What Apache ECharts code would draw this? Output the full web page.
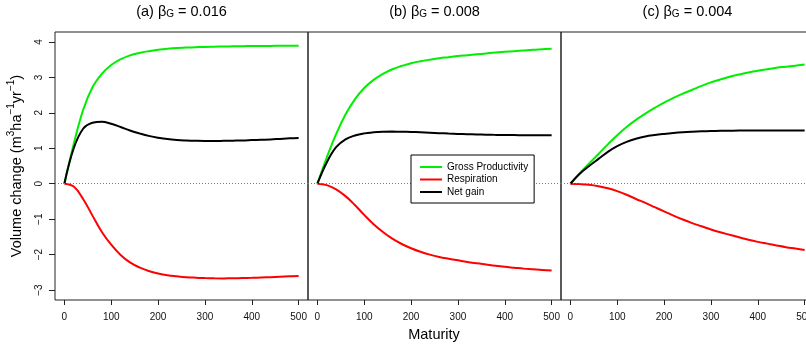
<!DOCTYPE html>
<html>
<head>
<meta charset="utf-8">
<script src="https://cdn.jsdelivr.net/npm/echarts@6/dist/echarts.min.js"></script>
<style>
html,body{margin:0;padding:0;background:#fff;}
#chart{width:806px;height:350px;}
</style>
</head>
<body>
<div id="chart"></div>
<script>
// ---- data (maturity every 20) ----
var maturity = [0,20,40,60,80,100,120,140,160,180,200,220,240,260,280,300,320,340,360,380,400,420,440,460,480,500];

var grossA = [0,1.12,2.08,2.72,3.1,3.35,3.51,3.62,3.69,3.74,3.78,3.81,3.83,3.84,3.85,3.86,3.865,3.87,3.875,3.88,3.883,3.886,3.888,3.89,3.89,3.89];
var respA  = [0,-0.08,-0.43,-0.9,-1.36,-1.72,-2.01,-2.22,-2.36,-2.46,-2.53,-2.58,-2.61,-2.635,-2.65,-2.66,-2.667,-2.67,-2.668,-2.662,-2.655,-2.645,-2.635,-2.622,-2.61,-2.6];
var netA   = [0,1.0,1.55,1.72,1.75,1.69,1.6,1.5,1.42,1.35,1.3,1.26,1.235,1.22,1.21,1.205,1.205,1.21,1.215,1.22,1.23,1.24,1.25,1.265,1.28,1.29];

var grossB = [0,0.74,1.4,1.95,2.38,2.7,2.93,3.1,3.23,3.32,3.4,3.455,3.5,3.54,3.57,3.6,3.625,3.65,3.675,3.7,3.72,3.74,3.76,3.78,3.795,3.81];
var respB  = [0,-0.04,-0.16,-0.35,-0.6,-0.88,-1.14,-1.36,-1.55,-1.7,-1.82,-1.92,-2.0,-2.065,-2.115,-2.16,-2.205,-2.245,-2.28,-2.315,-2.345,-2.37,-2.395,-2.415,-2.435,-2.45];
var netB   = [0,0.6,1.03,1.25,1.36,1.42,1.45,1.465,1.47,1.468,1.462,1.452,1.44,1.427,1.415,1.405,1.396,1.389,1.383,1.378,1.375,1.372,1.37,1.37,1.37,1.37];

var grossC = [0,0.3,0.57,0.84,1.11,1.37,1.6,1.8,1.98,2.14,2.29,2.42,2.54,2.65,2.76,2.86,2.94,3.02,3.08,3.14,3.19,3.23,3.27,3.3,3.33,3.36];
var respC  = [0,-0.01,-0.03,-0.07,-0.13,-0.21,-0.31,-0.43,-0.54,-0.66,-0.78,-0.9,-1.01,-1.11,-1.2,-1.29,-1.37,-1.44,-1.51,-1.58,-1.64,-1.69,-1.74,-1.79,-1.83,-1.87];
var netC   = [0,0.28,0.5,0.7,0.9,1.06,1.18,1.27,1.335,1.375,1.405,1.43,1.45,1.465,1.477,1.486,1.492,1.496,1.5,1.5,1.5,1.5,1.5,1.5,1.5,1.5];

var panelLetters = ['(a)', '(b)', '(c)'];
var panelBeta = ['0.016', '0.008', '0.004'];
var seriesNames = ['Gross Productivity', 'Respiration', 'Net gain'];
var xTicks = [0,100,200,300,400,500];
var yTicks = [-3,-2,-1,0,1,2,3,4];
var xLabel = 'Maturity';

// ---- chart ----
var FONT = '"Liberation Sans", Arial, Helvetica, sans-serif';
var colors = ['#00ee00', '#ff0000', '#000000'];
var panels = [[grossA, respA, netA], [grossB, respB, netB], [grossC, respC, netC]];
var lefts = [55, 308, 561];
var PW = 253, TOP = 32, PH = 268;
var lineCol = '#222';

function pairs(arr) { return maturity.map(function (t, i) { return [t, arr[i]]; }); }

var grids = [], xAxes = [], yAxes = [], series = [], graphics = [];
for (var p = 0; p < 3; p++) {
  grids.push({ left: lefts[p], top: TOP, width: PW, height: PH, show: true,
    borderColor: lineCol, borderWidth: 1, backgroundColor: 'transparent',
    containLabel: false, outerBoundsMode: 'none' });
  xAxes.push({ type: 'value', gridIndex: p, min: -20, max: 520, position: 'bottom',
    axisLine: { show: false, onZero: false }, splitLine: { show: false },
    axisTick: { show: true, length: 5, customValues: xTicks, lineStyle: { color: lineCol, width: 1 } },
    axisLabel: { show: true, customValues: xTicks, fontSize: 10, fontFamily: FONT, color: '#111', margin: 12,
      hideOverlap: false } });
  yAxes.push({ type: 'value', gridIndex: p, min: -3.28, max: 4.28, position: 'left',
    axisLine: { show: false, onZero: false }, splitLine: { show: false },
    axisTick: { show: p === 0, length: 6, customValues: yTicks, lineStyle: { color: lineCol, width: 1 } },
    axisLabel: { show: p === 0, customValues: yTicks, rotate: 90, fontSize: 10, fontFamily: FONT, color: '#111', margin: 11,
      formatter: function (v) { return v < 0 ? '\u2212' + (-v) : String(v); } } });
  // dotted zero reference line
  series.push({ type: 'line', xAxisIndex: p, yAxisIndex: p, data: [], silent: true, z: 1,
    markLine: { silent: true, symbol: ['none', 'none'], label: { show: false },
      lineStyle: { type: [1, 2], color: '#777', width: 1 }, emphasis: { disabled: true },
      data: [{ yAxis: 0 }] } });
  for (var s = 0; s < 3; s++) {
    series.push({ name: seriesNames[s], type: 'line', xAxisIndex: p, yAxisIndex: p,
      data: pairs(panels[p][s]), showSymbol: false, symbol: 'none', smooth: 0.4, z: 3,
      lineStyle: { color: colors[s], width: 2 }, itemStyle: { color: colors[s] } });
  }
  graphics.push({ type: 'text', x: lefts[p] + PW / 2, y: 10,
    style: { text: '{a|' + panelLetters[p] + ' \u03b2}{s|G}{a| = ' + panelBeta[p] + '}',
      align: 'center', verticalAlign: 'middle', fill: '#000', fontFamily: FONT,
      rich: { a: { fontSize: 14.5, lineHeight: 18, fontFamily: FONT, fill: '#000', verticalAlign: 'bottom' },
              s: { fontSize: 10, lineHeight: 11, fontFamily: FONT, fill: '#000', verticalAlign: 'bottom' } } } });
}

graphics.push({ type: 'text', x: 434, y: 335,
  style: { text: xLabel, align: 'center', verticalAlign: 'middle', fontSize: 14.5, fontFamily: FONT, fill: '#000' } });
graphics.push({ type: 'text', x: 15, y: 166, rotation: Math.PI / 2,
  style: { text: '{n|Volume change (m}{u|3}{n|ha}{u|\u22121}{n|yr}{u|\u22121}{n|)}',
    align: 'center', verticalAlign: 'middle', fill: '#000', fontFamily: FONT,
    rich: { n: { fontSize: 14.5, lineHeight: 18, fontFamily: FONT, fill: '#000', verticalAlign: 'bottom' },
            u: { fontSize: 10, lineHeight: 18, fontFamily: FONT, fill: '#000', verticalAlign: 'top' } } } });

var chart = echarts.init(document.getElementById('chart'), null, { renderer: 'canvas' });
chart.setOption({
  animation: false,
  backgroundColor: '#fff',
  grid: grids,
  xAxis: xAxes,
  yAxis: yAxes,
  series: series,
  legend: {
    data: seriesNames.map(function (n, i) { return { name: n, icon: 'rect', itemStyle: { color: colors[i] } }; }),
    orient: 'vertical', left: 411, top: 155, itemWidth: 22, itemHeight: 2, itemGap: 0.5,
    padding: [6, 6, 5, 9], borderColor: '#000', borderWidth: 1, backgroundColor: '#fff',
    textStyle: { fontSize: 10, fontFamily: FONT, color: '#000', lineHeight: 12 },
    selectedMode: false, z: 10
  },
  graphic: graphics
});
</script>
</body>
</html>
